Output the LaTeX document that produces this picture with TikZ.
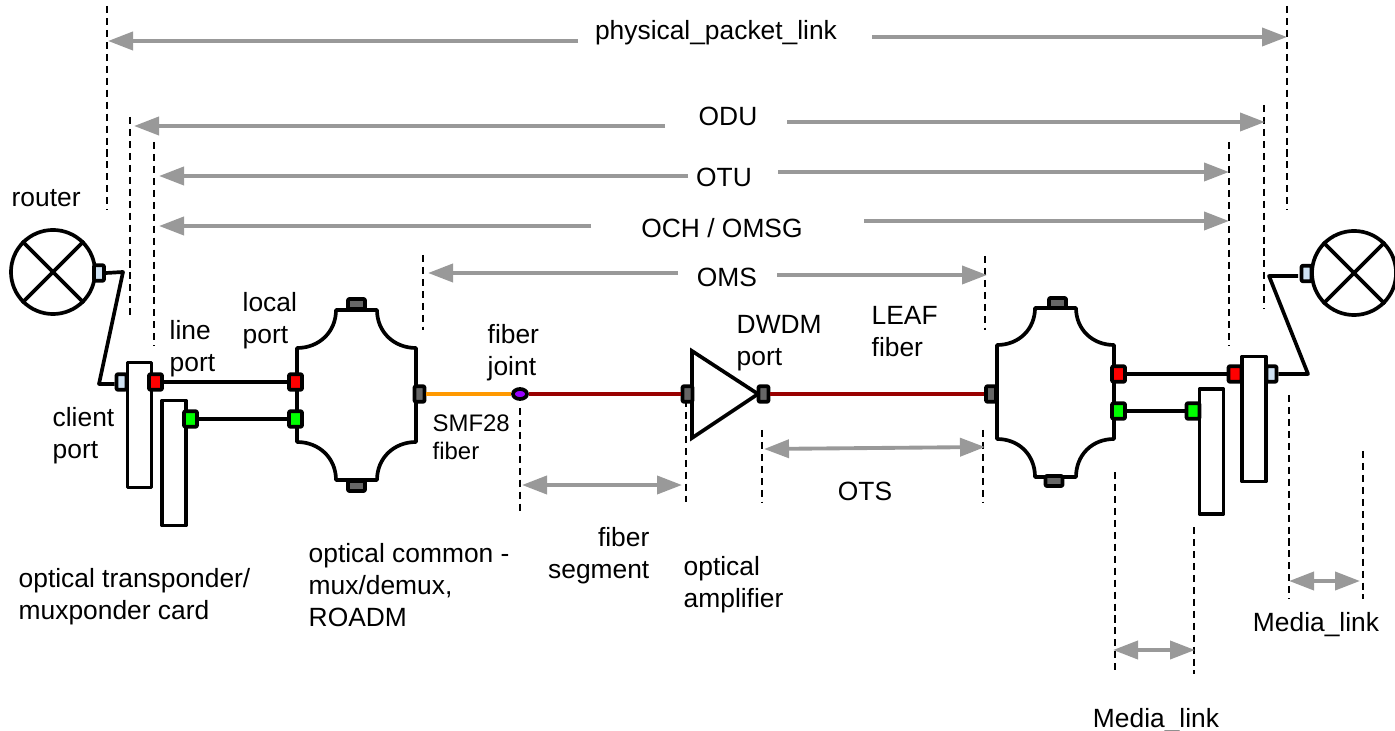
\documentclass[tikz,border=0pt]{standalone}
\usepackage{fontspec}
\setmainfont{Liberation Sans}
\usetikzlibrary{arrows.meta, shapes.geometric}
\definecolor{portblue}{HTML}{CFE2F3}
\definecolor{portgray}{HTML}{666666}
\definecolor{fiberred}{HTML}{990000}
\definecolor{fiberorange}{HTML}{FF9900}
\definecolor{spangray}{HTML}{999999}
\definecolor{jointpurple}{HTML}{9900FF}
\begin{document}
\begin{tikzpicture}[x=0.01cm, y=-0.01cm,
    wire/.style={line width=1.05pt, line join=round},
    guide/.style={line width=0.6pt, dash pattern=on 2pt off 1.4pt},
    fiber/.style={line width=1.1pt},
    span/.style={line width=1.1pt, spangray, -{Triangle[length=0.25cm, width=0.18cm]}},
    twoway/.style={line width=1.1pt, spangray, {Triangle[length=0.25cm, width=0.18cm]}-{Triangle[length=0.25cm, width=0.18cm]}},
    router/.style={draw, circle, wire, minimum size=0.84cm, inner sep=0},
    card/.style={draw, wire, fill=white, minimum width=0.24cm, minimum height=1.25cm, inner sep=0},
    port/.style={draw, wire, rounded corners=0.3pt, inner sep=0, minimum width=0.13cm, minimum height=0.155cm},
    label/.style={inner sep=0, font=\fontsize{7.5}{9.1}\selectfont, align=left}]
    \useasboundingbox (0,0) rectangle (1395,731);

    % Routers
    \node[router] (routerL) at (53,272) {};
    \draw[wire] (routerL.45) -- (routerL.225) (routerL.135) -- (routerL.315);
    \node[router] (routerR) at (1354,273) {};
    \draw[wire] (routerR.45) -- (routerR.225) (routerR.135) -- (routerR.315);

    % Transponder cards
    \node[card] (cardA) at (139.5,425) {};
    \node[card] (cardB) at (174,463) {};
    \node[card] (cardC) at (1254,419) {};
    \node[card] (cardD) at (1211.5,451.5) {};

    % Mux left
    \draw[wire] (336,310) -- (377,310) .. controls (377,332) and (394,348) .. (416,348)
      -- (416,442) .. controls (394,442) and (377,458) .. (377,480)
      -- (336,480) .. controls (336,458) and (319,442) .. (297,442)
      -- (297,348) .. controls (319,348) and (336,332) .. (336,310) -- cycle;
    % Mux right
    \draw[wire] (1035,308) -- (1076,308) .. controls (1076,329) and (1092,345) .. (1114,345)
      -- (1114,439) .. controls (1092,439) and (1076,455) .. (1076,477)
      -- (1035,477) .. controls (1035,455) and (1019,439) .. (997,439)
      -- (997,345) .. controls (1019,345) and (1035,329) .. (1035,308) -- cycle;

    % Amplifier
    \draw[wire, line join=miter] (692,351) -- (758,394) -- (692,438) -- cycle;

    % Ports
    \node[port, fill=portblue, minimum width=0.1cm] (clientR1) at (99,273) {};
    \node[port, fill=portblue, minimum width=0.1cm] (clientL1) at (121.5,382) {};
    \node[port, fill=red] (lineA) at (155.5,382) {};
    \node[port, fill=green] (lineB) at (190.5,419) {};
    \node[port, fill=red] (localA) at (295.5,382) {};
    \node[port, fill=green] (localB) at (295.5,419) {};
    \node[port, fill=portgray, minimum width=0.17cm, minimum height=0.1cm] (muxLtop) at (356.5,304) {};
    \node[port, fill=portgray, minimum width=0.17cm, minimum height=0.1cm] (muxLbot) at (356.5,486) {};
    \node[port, fill=portgray, minimum width=0.1cm] (muxLout) at (419.5,394) {};
    \node[port, fill=portgray, minimum width=0.1cm] (ampIn) at (687.5,394) {};
    \node[port, fill=portgray, minimum width=0.1cm] (ampOut) at (763.5,394) {};
    \node[port, fill=portgray, minimum width=0.1cm] (muxRin) at (991,394) {};
    \node[port, fill=portgray, minimum width=0.17cm, minimum height=0.1cm] (muxRtop) at (1057.5,303) {};
    \node[port, fill=portgray, minimum width=0.17cm, minimum height=0.1cm] (muxRbot) at (1054,481) {};
    \node[port, fill=red] (localC) at (1118.5,374) {};
    \node[port, fill=green] (localD) at (1118.5,411) {};
    \node[port, fill=red] (lineC) at (1235,374) {};
    \node[port, fill=green] (lineD) at (1193,411) {};
    \node[port, fill=portblue, minimum width=0.1cm] (clientR2) at (1271.5,374) {};
    \node[port, fill=portblue, minimum width=0.1cm] (clientL2) at (1306.5,273.5) {};

    % Fiber joint
    \node[draw, wire, ellipse, fill=jointpurple, minimum width=0.14cm, minimum height=0.1cm, inner sep=0] (joint) at (520,394) {};

    % Patch cords
    \coordinate (kneeA) at (123,272);
    \coordinate (kneeB) at (99,384);
    \coordinate (kneeC) at (1308,374);
    \coordinate (kneeD) at (1269,276);
    \coordinate (kneeE) at (1298,276);
    \draw[wire] (clientR1.east) -- (kneeA) -- (kneeB) -- (clientL1.west |- kneeB);
    \draw[wire] (clientR2.east) -- (kneeC) -- (kneeD) -- (kneeE);
    \draw[wire] (lineA) -- (localA);
    \draw[wire] (lineB) -- (localB);
    \draw[wire] (localC) -- (lineC);
    \draw[wire] (localD) -- (lineD);

    % Fibers
    \draw[fiber, fiberorange] (muxLout.east) -- (joint.west);
    \draw[fiber, fiberred] (joint.east) -- (ampIn.west);
    \draw[fiber, fiberred] (ampOut.east) -- (muxRin.west);

    % Dashed guides
    \foreach \gname/\gx/\gtop/\gbot in {a/107/6/210, b/130/117/320, c/154/142/346, d/423/255/330,
        e/985/256/330, f/983/430/503, g/1115/472/674, h/1194/527/674, i/1229/142/346,
        j/1264/105/309, k/1287/6/210, l/1289/395/599, m/1363/451/599, n/520/408/515,
        o/686/400/502, p/762/430/503} {
      \coordinate (guide\gname top) at (\gx,\gtop);
      \coordinate (guide\gname bot) at (\gx,\gbot);
      \draw[guide] (guide\gname top) -- (guide\gname bot);
    }

    % Spans with a gap for the label
    \foreach \sname/\xa/\ya/\xb/\yb in {ppL/578/41/108/41, ppR/872/37/1287/37, oduL/665/126/134/126,
        oduR/787/122/1265/122, otuL/688/176/159/176, otuR/778/172/1229/172, ochL/591/226/159/226,
        ochR/864/221/1229/221, omsL/678/273/428/273, omsR/777/275/987/275} {
      \coordinate (\sname a) at (\xa,\ya);
      \coordinate (\sname b) at (\xb,\yb);
      \draw[span] (\sname a) -- (\sname b);
    }

    % Spans with two heads
    \foreach \sname/\xa/\ya/\xb/\yb in {ots/764/449/985/447, seg/522/485/682/485,
        mediaA/1113/650/1195/650, mediaB/1289/581/1360/581} {
      \coordinate (\sname a) at (\xa,\ya);
      \coordinate (\sname b) at (\xb,\yb);
      \draw[twoway] (\sname a) -- (\sname b);
    }

    % Span labels
    \node[label] (lblPacket) at (716,33) {physical\_packet\_link};
    \node[label] (lblOdu) at (728,116) {ODU};
    \node[label] (lblOtu) at (724,177) {OTU};
    \node[label] (lblOch) at (722,228) {OCH / OMSG};
    \node[label] (lblOms) at (727,277) {OMS};
    \node[label] (lblOts) at (865,491) {OTS};
    \node[label] (lblMediaA) at (1156,721) {Media\_link};
    \node[label] (lblMediaB) at (1316,625) {Media\_link};

    % Part labels
    \node[label, anchor=west] (lblRouter) at (11,198) {router};
    \node[label, anchor=west] (lblLine) at (169,349) {line\\port};
    \node[label, anchor=west] (lblLocal) at (242,321) {local\\port};
    \node[label, anchor=west] (lblClient) at (52,436) {client\\port};
    \node[label, anchor=west] (lblJoint) at (487,353) {fiber\\joint};
    \node[label, anchor=west, font=\fontsize{6.8}{8}\selectfont] (lblSmf) at (432,437) {SMF28\\fiber};
    \node[label, anchor=west] (lblDwdm) at (736,343) {DWDM\\port};
    \node[label, anchor=west] (lblLeaf) at (871,332) {LEAF\\fiber};
    \node[label, anchor=east, align=right] (lblSegment) at (650,556) {fiber\\segment};
    \node[label, anchor=west] (lblAmp) at (683,585) {optical\\amplifier};
    \node[label, anchor=west] (lblCommon) at (308,585) {optical common -\\mux/demux,\\ROADM};
    \node[label, anchor=west] (lblCard) at (18,597) {optical transponder/\\muxponder card};
\end{tikzpicture}
\end{document}
